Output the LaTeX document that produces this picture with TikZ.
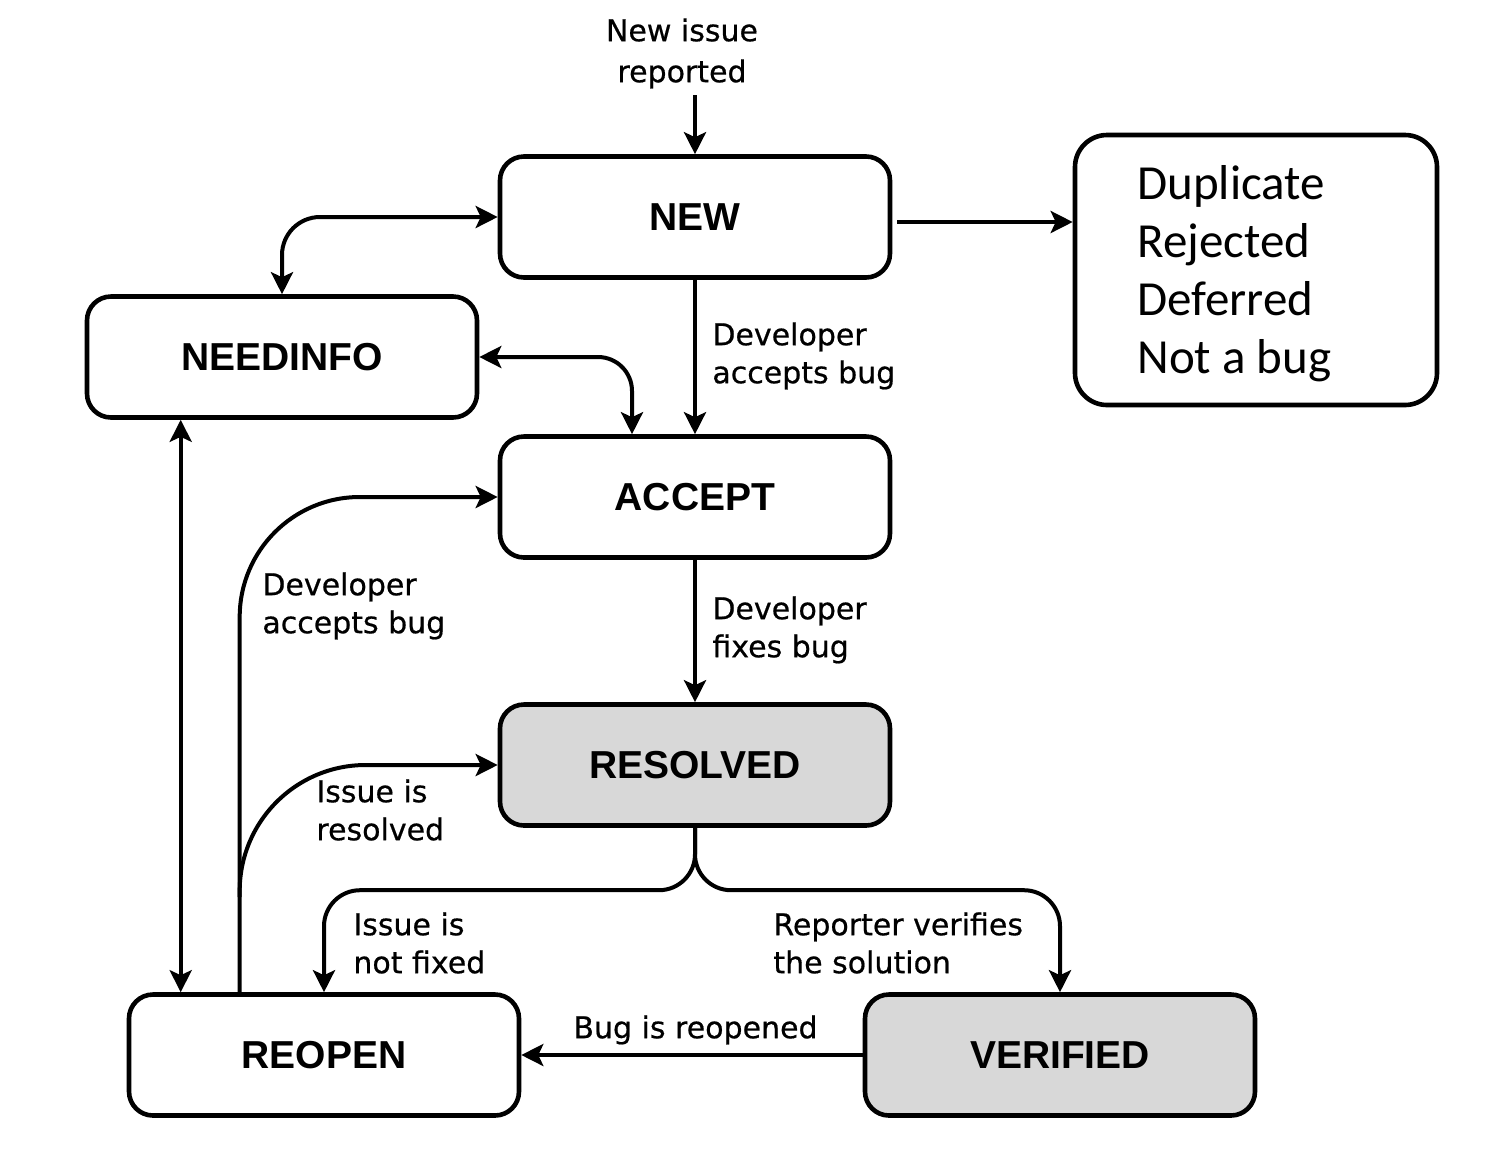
\documentclass[tikz,border=0pt]{standalone}
\usepackage{fontspec}
\setmainfont{DejaVu Sans}[FakeBold=0.6]
\newfontfamily\boxfont{Liberation Sans}
\newfontfamily\calfont{Carlito}
\usetikzlibrary{arrows.meta,calc}
\definecolor{boxgray}{RGB}{216,216,216}
\begin{document}
\begin{tikzpicture}[x=0.5pt,y=-0.5pt,
  state/.style={draw, line width=2.3pt, rounded corners=12pt, minimum width=195pt, minimum height=60.5pt, inner sep=0pt,
    font=\boxfont\bfseries\fontsize{19.5}{23}\selectfont},
  shaded/.style={state, fill=boxgray},
  lbl/.style={anchor=north west, inner sep=0pt, align=left, font=\fontsize{15}{19}\selectfont},
  arr/.style={line width=2pt, -{Stealth[length=11pt,width=11pt,inset=2.5pt]}},
  darr/.style={line width=2pt, {Stealth[length=11pt,width=11pt,inset=2.5pt]}-{Stealth[length=11pt,width=11pt,inset=2.5pt]}}
]
\useasboundingbox (0,0) rectangle (1494,1148);

% states
\node[state]  (NEW)      at (695,217)  {NEW};
\node[state]  (NEEDINFO) at (282,357)  {NEEDINFO};
\node[state]  (ACCEPT)   at (695,497)  {ACCEPT};
\node[shaded] (RESOLVED) at (695,765)  {RESOLVED};
\node[state]  (REOPEN)   at (324,1055) {REOPEN};
\node[shaded] (VERIFIED) at (1060,1055) {VERIFIED};
\node[draw, line width=2.3pt, rounded corners=16pt, minimum width=181pt, minimum height=135pt] (DUP) at (1256,270) {};
\node[anchor=north west, inner sep=0pt, align=left, font=\calfont\fontsize{24.5}{29}\selectfont] (DUPT) at (1137,165)
  {Duplicate\\Rejected\\Deferred\\Not a bug};

% top label
\node[anchor=north, inner sep=0pt, align=center, font=\fontsize{15}{20.5}\selectfont] (NIR) at (682,18) {New issue\\reported};
\coordinate (top) at ($(NEW.north)+(0,-59)$);
\draw[arr] (top) -- (NEW.north);

% NEW -> closed states
\coordinate (n1) at ($(NEW.east)+(5,5)$);
\draw[arr] (n1) -- (n1 -| DUP.west);

% NEW <-> NEEDINFO
\draw[darr, rounded corners=19pt] (NEEDINFO.north) |- (NEW.west);

% NEEDINFO <-> ACCEPT
\coordinate (a1) at ($(ACCEPT.north)+(-63,0)$);
\draw[darr, rounded corners=17pt] (NEEDINFO.east) -| (a1);

% NEW -> ACCEPT
\draw[arr] (NEW.south) -- (ACCEPT.north);
\node[lbl] (L1) at (712,322) {Developer\\accepts bug};

% ACCEPT -> RESOLVED
\draw[arr] (ACCEPT.south) -- (RESOLVED.north);
\node[lbl] (L2) at (712,596) {Developer\\fixes bug};

% NEEDINFO <-> REOPEN
\coordinate (v1) at ($(NEEDINFO.south west)+(96,0)$);
\draw[darr] (v1) -- (v1 |- REOPEN.north);

% REOPEN -> ACCEPT
\coordinate (r1) at ($(REOPEN.north west)+(113,0)$);
\draw[arr, rounded corners=60pt] (r1) |- (ACCEPT.west);
\node[lbl] (L3) at (262,572) {Developer\\accepts bug};

% REOPEN -> RESOLVED
\coordinate (r2) at ($(r1)+(0,-95)$);
\draw[arr, rounded corners=63pt] (r2) |- (RESOLVED.west);
\node[lbl] (L4) at (316,779) {Issue is\\resolved};

% RESOLVED -> REOPEN / VERIFIED
\coordinate (s1) at ($(REOPEN.north)+(0,-102)$);
\coordinate (s2) at ($(VERIFIED.north)+(0,-102)$);
\draw[arr, rounded corners=18pt] (RESOLVED.south) |- (s1) -- (REOPEN.north);
\draw[arr, rounded corners=18pt] (RESOLVED.south) |- (s2) -- (VERIFIED.north);
\node[lbl] (L5) at (353,912) {Issue is\\not fixed};
\node[lbl] (L6) at (773,912) {Reporter verifies\\the solution};

% VERIFIED -> REOPEN
\draw[arr] (VERIFIED.west) -- (REOPEN.east);
\node[lbl] (L7) at (573,1015) {Bug is reopened};
\end{tikzpicture}
\end{document}
